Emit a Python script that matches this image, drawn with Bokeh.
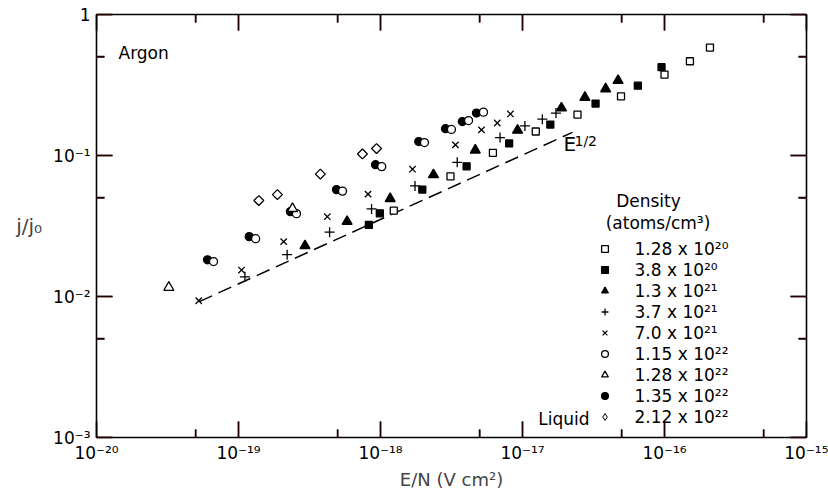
import math
from bokeh.plotting import figure
from bokeh.models import (Range1d, FixedTicker, LogAxis, CustomJSTickFormatter,
                          Label, Legend, LegendItem)
from bokeh.embed import file_html
from bokeh.resources import INLINE

FONT = "DejaVu Sans"
TICK_COLOR = "#220000"

# ---------------- axes ----------------
x_ticks = [1e-20, 1e-19, 1e-18, 1e-17, 1e-16, 1e-15]
x_tick_labels = ["10⁻²⁰", "10⁻¹⁹", "10⁻¹⁸", "10⁻¹⁷", "10⁻¹⁶", "10⁻¹⁵"]
x_minor_ticks = [5e-20, 5e-19, 5e-18, 5e-17, 5e-16]
y_ticks = [1e-3, 1e-2, 1e-1, 1.0]
y_tick_labels = ["10⁻³", "10⁻²", "10⁻¹", "1"]
y_minor_ticks = [5e-3, 5e-2, 5e-1]

# ---------------- data (E/N in V cm^2, j/j0) ----------------
n128e20_x = [1.24e-18, 3.11e-18, 6.19e-18, 1.24e-17, 2.44e-17, 4.94e-17, 1.00e-16, 1.51e-16, 2.09e-16]
n128e20_y = [0.0406, 0.0712, 0.1045, 0.148, 0.195, 0.263, 0.375, 0.466, 0.583]

n38e20_x = [8.28e-19, 9.89e-19, 1.97e-18, 4.04e-18, 8.05e-18, 1.57e-17, 3.27e-17, 6.49e-17, 9.53e-17]
n38e20_y = [0.0322, 0.0389, 0.0573, 0.0838, 0.1217, 0.1657, 0.2335, 0.313, 0.423]

n13e21_x = [2.94e-19, 5.82e-19, 1.17e-18, 2.36e-18, 4.65e-18, 9.23e-18, 1.88e-17, 2.75e-17, 3.85e-17, 4.71e-17]
n13e21_y = [0.0229, 0.0340, 0.0494, 0.0730, 0.109, 0.151, 0.217, 0.258, 0.297, 0.340]

n37e21_x = [1.11e-19, 2.20e-19, 4.38e-19, 8.65e-19, 1.75e-18, 3.47e-18, 6.95e-18, 1.04e-17, 1.38e-17, 1.72e-17]
n37e21_y = [0.0138, 0.0198, 0.0286, 0.0418, 0.0608, 0.0895, 0.134, 0.162, 0.181, 0.200]

n70e21_x = [5.25e-20, 1.05e-19, 2.08e-19, 4.22e-19, 8.17e-19, 1.68e-18, 3.37e-18, 5.14e-18, 6.64e-18, 8.22e-18]
n70e21_y = [0.00933, 0.0154, 0.0245, 0.0368, 0.0532, 0.080, 0.119, 0.152, 0.170, 0.197]

n115e22_x = [6.67e-20, 1.32e-19, 2.56e-19, 5.40e-19, 1.02e-18, 2.04e-18, 3.16e-18, 4.17e-18, 5.31e-18]
n115e22_y = [0.0177, 0.0257, 0.0387, 0.0559, 0.0834, 0.1235, 0.153, 0.177, 0.203]

n128e22_x = [3.23e-20, 2.40e-19]
n128e22_y = [0.0116, 0.0420]

n135e22_x = [6.05e-20, 1.19e-19, 2.32e-19, 4.90e-19, 9.23e-19, 1.86e-18, 2.87e-18, 3.77e-18, 4.74e-18]
n135e22_y = [0.0182, 0.0266, 0.0400, 0.0573, 0.0861, 0.1256, 0.155, 0.174, 0.200]

liquid_x = [1.39e-19, 1.88e-19, 3.77e-19, 7.46e-19, 9.38e-19]
liquid_y = [0.0479, 0.0528, 0.0738, 0.1026, 0.112]

# E^1/2 reference line end points
ref_x = [5.3e-20, 2.25e-17]
ref_y = [0.0092, 0.146]

legend_labels = ["1.28 x 10²⁰", "3.8 x 10²⁰", "1.3 x 10²¹", "3.7 x 10²¹", "7.0 x 10²¹",
                 "1.15 x 10²²", "1.28 x 10²²", "1.35 x 10²²", "2.12 x 10²²"]

# ---------------- figure ----------------
W, H = 828, 492
BL, BR, BT, BB = 96, 22, 14, 55
p = figure(width=W, height=H, x_axis_type="log", y_axis_type="log",
           x_range=Range1d(x_ticks[0], x_ticks[-1]), y_range=Range1d(y_ticks[0], y_ticks[-1]),
           output_backend="svg", toolbar_location=None,
           min_border_left=BL, min_border_right=BR, min_border_top=BT, min_border_bottom=BB)
p.xgrid.grid_line_color = None
p.ygrid.grid_line_color = None
p.outline_line_color = None


def make_fmt(tv, tl):
    return CustomJSTickFormatter(args=dict(tv=tv, tl=tl), code="""
        let best = 0;
        const lt = Math.log10(tick);
        for (let i = 0; i < tv.length; i++) {
            if (Math.abs(Math.log10(tv[i]) - lt) < Math.abs(Math.log10(tv[best]) - lt)) best = i;
        }
        return tl[best];
    """)


def style_axis(ax, ticks, minor):
    ax.ticker = FixedTicker(ticks=ticks, minor_ticks=minor)
    ax.major_tick_in = 16
    ax.major_tick_out = 0
    ax.minor_tick_in = 8
    ax.minor_tick_out = 0
    ax.axis_line_width = 1.6
    ax.major_tick_line_width = 1.5
    ax.minor_tick_line_width = 1.5
    ax.axis_line_color = "black"
    ax.major_tick_line_color = TICK_COLOR
    ax.minor_tick_line_color = TICK_COLOR


xa = p.xaxis[0]
style_axis(xa, x_ticks, x_minor_ticks)
xa.formatter = make_fmt(x_ticks, x_tick_labels)
xa.major_label_text_font = FONT
xa.major_label_text_font_size = "17px"
xa.major_label_text_color = "black"
xa.major_label_standoff = 5
xa.axis_label = "E/N (V cm²)"
xa.axis_label_text_font = FONT
xa.axis_label_text_font_size = "18px"
xa.axis_label_text_font_style = "normal"
xa.axis_label_standoff = 3

ya = p.yaxis[0]
style_axis(ya, y_ticks, y_minor_ticks)
ya.formatter = make_fmt(y_ticks, y_tick_labels)
ya.major_label_text_font = FONT
ya.major_label_text_font_size = "17px"
ya.major_label_text_color = "black"
ya.major_label_standoff = 6
ya.axis_label = "j/j₀"
ya.axis_label_orientation = "horizontal"
ya.axis_label_text_font = FONT
ya.axis_label_text_font_size = "20px"
ya.axis_label_text_font_style = "normal"
ya.axis_label_standoff = 8

top = LogAxis(formatter=CustomJSTickFormatter(code="return '';"),
              major_label_text_font_size="0px", major_label_standoff=0)
style_axis(top, x_ticks, x_minor_ticks)
p.add_layout(top, "above")
right = LogAxis(formatter=CustomJSTickFormatter(code="return '';"),
                major_label_text_font_size="0px", major_label_standoff=0)
style_axis(right, y_ticks, y_minor_ticks)
p.add_layout(right, "right")

# ---- inward tick marks as short segments (pixel length converted to log-data length) ----
px_per_dec_x = (W - BL - BR) / (math.log10(x_ticks[-1]) - math.log10(x_ticks[0]))
px_per_dec_y = (H - BT - BB) / (math.log10(y_ticks[-1]) - math.log10(y_ticks[0]))


def fx(px):
    return 10 ** (px / px_per_dec_x)


def fy(px):
    return 10 ** (px / px_per_dec_y)


tick_style = dict(line_color=TICK_COLOR, line_width=1.5)
for ticks, L in ((x_ticks, 16), (x_minor_ticks, 8)):
    n = len(ticks)
    for y0, y1 in ((y_ticks[0], y_ticks[0] * fy(L)), (y_ticks[-1], y_ticks[-1] / fy(L))):
        p.segment(x0=[t for t in ticks], y0=[y0] * n, x1=[t * 1.0 for t in ticks], y1=[y1] * n,
                  **tick_style)
for ticks, L in ((y_ticks, 16), (y_minor_ticks, 8)):
    n = len(ticks)
    for x0, x1 in ((x_ticks[0], x_ticks[0] * fx(L)), (x_ticks[-1], x_ticks[-1] / fx(L))):
        p.segment(x0=[x0] * n, y0=[t for t in ticks], x1=[x1] * n, y1=[t * 1.0 for t in ticks],
                  **tick_style)

# ---------------- marks ----------------
lw = 1.3
p.line(ref_x, ref_y, line_color="black", line_width=1.5, line_dash="14 7")

r2 = p.scatter(n38e20_x, n38e20_y, marker="square", size=7, fill_color="black", line_color="black", line_width=lw)
r3 = p.scatter(n13e21_x, n13e21_y, marker="triangle", size=10, fill_color="black", line_color="black", line_width=lw)
r4 = p.scatter(n37e21_x, n37e21_y, marker="cross", size=10, line_color="black", line_width=lw)
r5 = p.scatter(n70e21_x, n70e21_y, marker="x", size=9, line_color="black", line_width=lw)
r8 = p.scatter(n135e22_x, n135e22_y, marker="circle", size=8, fill_color="black", line_color="black", line_width=lw)
r1 = p.scatter(n128e20_x, n128e20_y, marker="square", size=7, fill_color="white", line_color="black", line_width=lw)
r6 = p.scatter(n115e22_x, n115e22_y, marker="circle", size=8, fill_color="white", line_color="black", line_width=lw)
r7 = p.scatter(n128e22_x, n128e22_y, marker="triangle", size=10, fill_color="white", line_color="black", line_width=lw)
# legend key for the liquid series (legend glyphs are never rotated); it sits fully hidden
# underneath the white-filled rotated squares drawn next
r9_key = p.scatter(liquid_x, liquid_y, marker="diamond", size=5, fill_color="white", line_color="black",
                   line_width=1.0)
r9 = p.scatter(liquid_x, liquid_y, marker="square", angle=math.pi / 4, size=7, fill_color="white",
               line_color="black", line_width=lw)

renderers = [r1, r2, r3, r4, r5, r6, r7, r8, r9_key]
legend = Legend(items=[LegendItem(label=l, renderers=[r]) for l, r in zip(legend_labels, renderers)],
                location=(499.5, 10), glyph_width=17, glyph_height=21, label_height=21,
                label_standoff=22, spacing=0, padding=0, margin=0,
                background_fill_alpha=0, border_line_alpha=0,
                label_text_font=FONT, label_text_font_size="17px", label_text_color="black")
p.add_layout(legend)

# ---------------- text annotations ----------------
def add_label(text, x, y, size, align="left"):
    p.add_layout(Label(x=x, y=y, x_units="screen", y_units="screen", text=text,
                       text_font=FONT, text_font_size=size, text_align=align,
                       text_baseline="middle", text_color="black"))


add_label("Argon", 22, 384.7, "17px")
add_label("E", 467, 293.2, "20px")
add_label("1/2", 478, 296.7, "14px")
add_label("Density", 552, 236.7, "17px", "center")
add_label("(atoms/cm³)", 561.5, 214.7, "17px", "center")
add_label("Liquid", 493, 18.7, "17px", "right")

open("out.html", "w").write(file_html(p, INLINE))
